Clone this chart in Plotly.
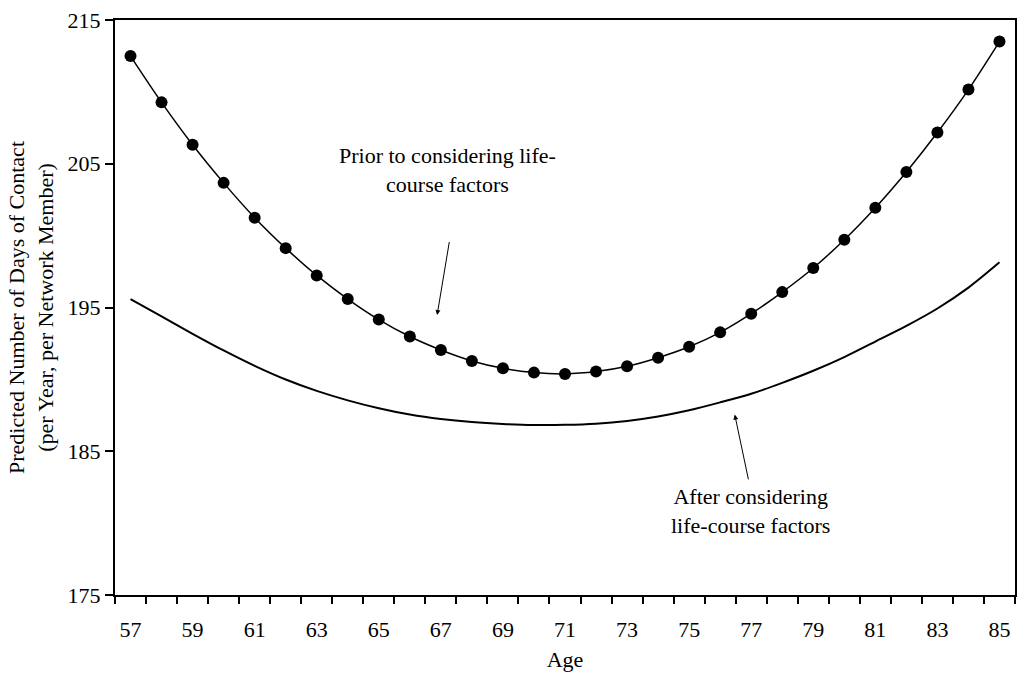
import plotly.graph_objects as go

ages = list(range(57, 86))

prior_values = [212.49, 209.27, 206.32, 203.67, 201.25, 199.13, 197.23, 195.59,
                194.16, 192.98, 192.04, 191.28, 190.77, 190.47, 190.38, 190.54,
                190.91, 191.51, 192.27, 193.27, 194.57, 196.07, 197.75, 199.71,
                201.94, 204.43, 207.17, 210.16, 213.50]

after_values = [195.59, 194.38, 193.17, 192.01, 190.94, 189.99, 189.20, 188.54,
                187.99, 187.55, 187.24, 187.03, 186.90, 186.83, 186.84, 186.92,
                187.11, 187.42, 187.85, 188.40, 189.00, 189.76, 190.60, 191.55,
                192.63, 193.72, 194.93, 196.38, 198.14]

y_ticks = [175, 185, 195, 205, 215]
x_label_ticks = list(range(57, 86, 2))
x_boundaries = [a - 0.5 for a in ages] + [ages[-1] + 0.5]

FONT = "Liberation Serif"

fig = go.Figure()
fig.add_trace(go.Scatter(
    x=ages, y=after_values, mode="lines",
    line=dict(color="black", width=2, shape="spline", smoothing=0.8),
    name="After considering life-course factors", showlegend=False,
))
fig.add_trace(go.Scatter(
    x=ages, y=prior_values, mode="lines+markers",
    line=dict(color="black", width=1.5, shape="spline", smoothing=0.8),
    marker=dict(color="black", size=12),
    name="Prior to considering life-course factors", showlegend=False,
))

fig.add_annotation(
    x=66.88, y=194.48, ax=67.28, ay=199.66, axref="x", ayref="y",
    xref="x", yref="y", text="", showarrow=True,
    arrowhead=2, arrowsize=1, arrowwidth=1, arrowcolor="black",
)
fig.add_annotation(
    x=67.21, y=204.57, xref="x", yref="y",
    text="Prior to considering life-<br>course factors", showarrow=False,
    font=dict(family=FONT, size=22, color="black"), align="center",
)
fig.add_annotation(
    x=76.47, y=187.55, ax=76.92, ay=182.94, axref="x", ayref="y",
    xref="x", yref="y", text="", showarrow=True,
    arrowhead=2, arrowsize=1, arrowwidth=1, arrowcolor="black",
)
fig.add_annotation(
    x=76.97, y=180.87, xref="x", yref="y",
    text="After considering<br>life-course factors", showarrow=False,
    font=dict(family=FONT, size=22, color="black"), align="center",
)

fig.update_layout(
    width=1025, height=678,
    margin=dict(l=115, r=8, t=16, b=83),
    paper_bgcolor="white", plot_bgcolor="white",
    font=dict(family=FONT, size=22, color="black"),
    xaxis=dict(
        range=[56.5, 85.5], tickmode="array", tickvals=x_label_ticks,
        ticktext=[str(v) for v in x_label_ticks],
        ticks="", ticklabelstandoff=14,
        tickfont=dict(family=FONT, size=22, color="black"),
        minor=dict(tickmode="array", tickvals=x_boundaries, ticks="outside",
                   ticklen=7, tickwidth=2, tickcolor="black", showgrid=False),
        showgrid=False, zeroline=False,
        showline=True, linecolor="black", linewidth=2, mirror=True,
        title=dict(text="Age", standoff=10, font=dict(family=FONT, size=22)),
    ),
    yaxis=dict(
        range=[175, 215], tickmode="array", tickvals=y_ticks,
        ticks="outside", ticklen=8, tickwidth=2, tickcolor="black",
        tickfont=dict(family=FONT, size=22, color="black"),
        showgrid=False, zeroline=False,
        showline=True, linecolor="black", linewidth=2, mirror=True,
        title=dict(text="Predicted Number of Days of Contact<br>(per Year, per Network Member)",
                   standoff=8, font=dict(family=FONT, size=22)),
    ),
)

fig.write_html("out.html")
